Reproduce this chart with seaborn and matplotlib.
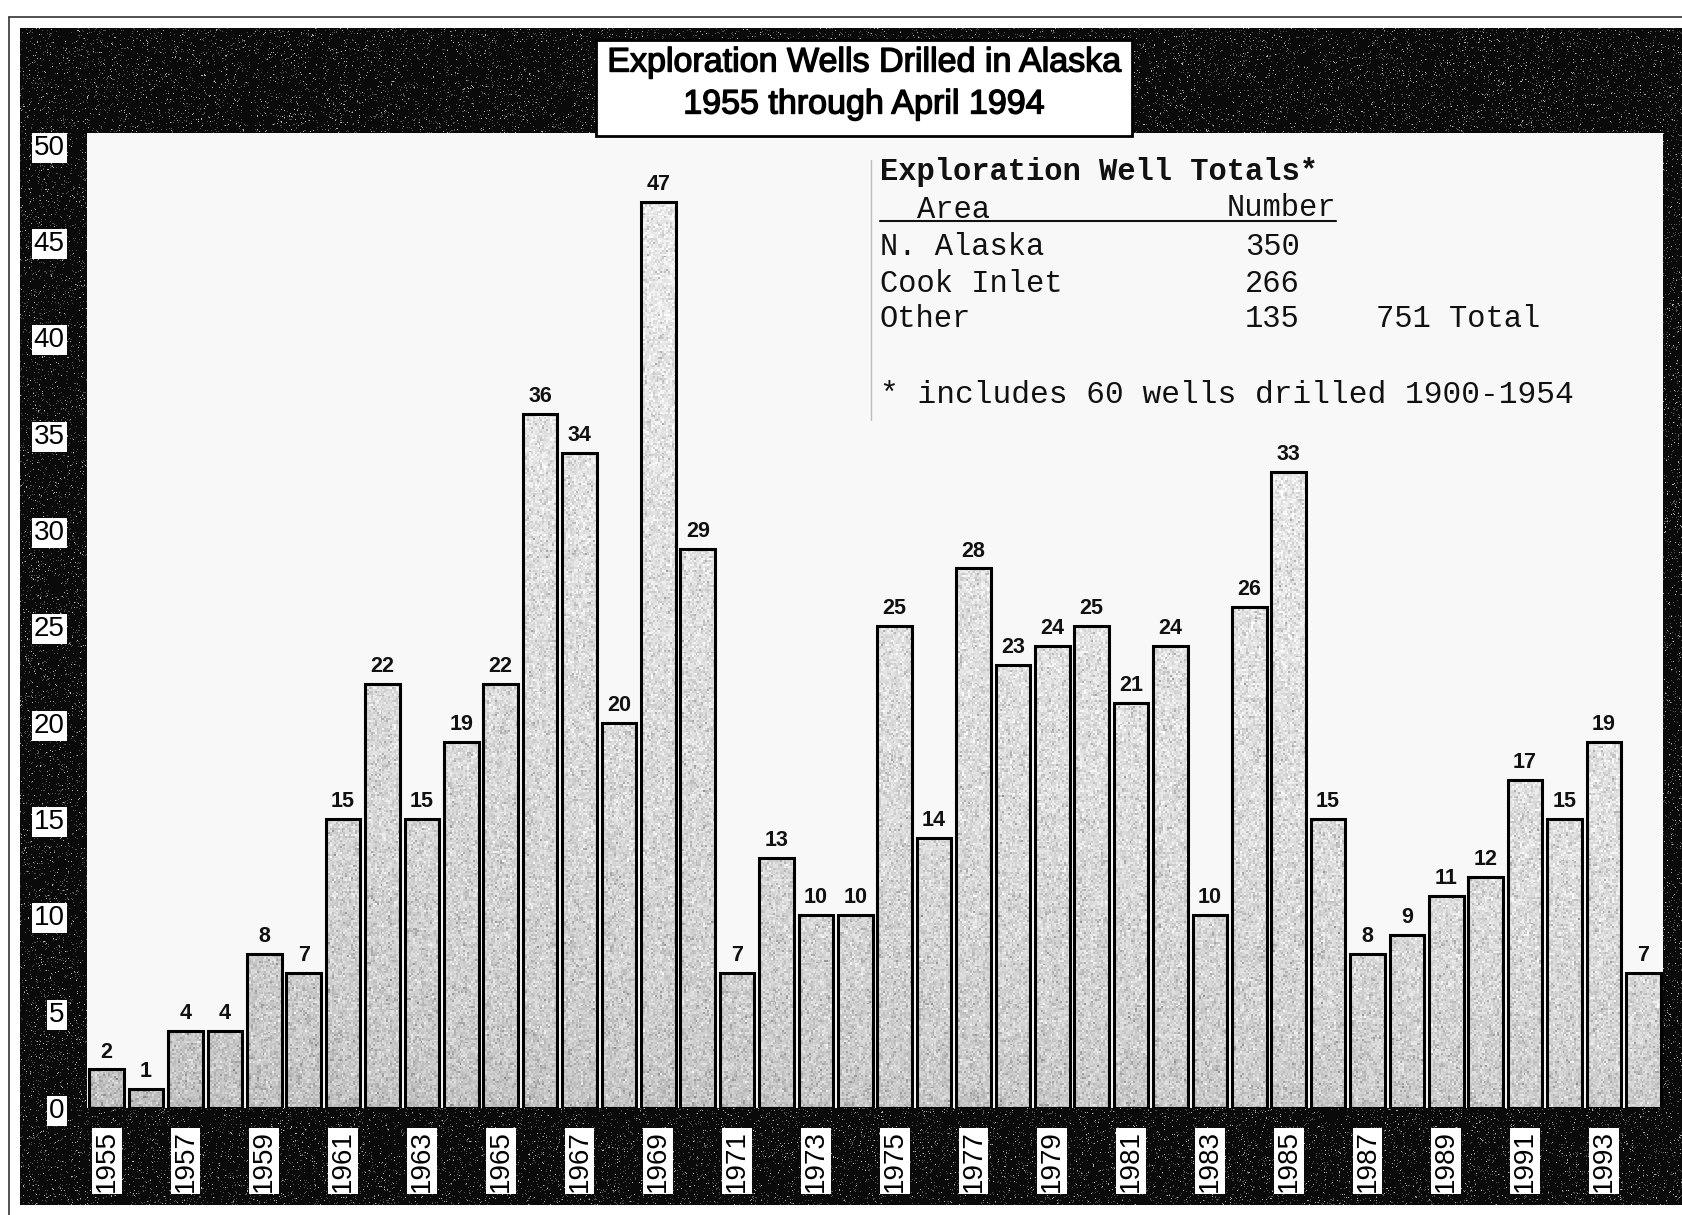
import numpy as np
import pandas as pd
import matplotlib
matplotlib.use("Agg")
import matplotlib.pyplot as plt
import matplotlib.patheffects as pe
from matplotlib.patches import Rectangle
import seaborn as sns

# Exploration wells drilled per year
years = [str(y) for y in range(1955, 1995)]
wells = [2, 1, 4, 4, 8, 7, 15, 22, 15, 19,
         22, 36, 34, 20, 47, 29, 7, 13, 10, 10,
         25, 14, 28, 23, 24, 25, 21, 24, 10, 26,
         33, 15, 8, 9, 11, 12, 17, 15, 19, 7]
tick_years = years[::2]
y_ticks = list(range(0, 51, 5))

# Summary table
areas = ["N. Alaska", "Cook Inlet", "Other"]
area_counts = [350, 266, 135]
grand_total = 751

title_lines = ["Exploration Wells Drilled in Alaska", "1955 through April 1994"]

sns.set_theme(style="white")
plt.rcParams["font.family"] = ["Liberation Sans", "DejaVu Sans"]

W, H = 1682, 1215
fig = plt.figure(figsize=(W / 100, H / 100), dpi=100)
fig.patch.set_facecolor("white")

# ---- background frame (pixel coordinates) ----
bg = fig.add_axes([0, 0, 1, 1], zorder=0)
bg.set_xlim(0, W)
bg.set_ylim(H, 0)
bg.axis("off")
fx0, fy0, fx1, fy1 = 20, 28, W, 1205
rng = np.random.default_rng(7)
speck = np.full((fy1 - fy0, fx1 - fx0), 0.04)
dots = rng.random(speck.shape)
speck[dots > 0.93] = 0.33
speck[dots > 0.985] = 0.7
bg.imshow(speck, cmap="gray", vmin=0, vmax=1, extent=[fx0, fx1, fy1, fy0],
          interpolation="nearest", aspect="auto", zorder=1)
bg.plot([9, W], [17, 17], color="#333333", lw=1.2, zorder=2)
bg.plot([9, 9], [17, H], color="#333333", lw=1.2, zorder=2)

# ---- bar chart ----
ax_l, ax_r, ax_t, ax_b = 87, 1663, 133, 1108
ax = fig.add_axes([ax_l / W, (H - ax_b) / H, (ax_r - ax_l) / W, (ax_b - ax_t) / H], zorder=2)
df = pd.DataFrame({"year": years, "wells": wells})
sns.barplot(data=df, x="year", y="wells", order=years, color="#cccccc",
            width=0.88, edgecolor="black", linewidth=2.2, ax=ax, zorder=3)
ax.set_xlim(-0.5, len(years) - 0.5)
ax.set_ylim(0, 50.6)
ax.set_facecolor("#f8f8f8")
for s in ax.spines.values():
    s.set_visible(False)
ax.set_xlabel("")
ax.set_ylabel("")

# shaded, grainy fill inside each bar
ny, nx = 500, 800
gy = np.linspace(0, 1, ny)[:, None]
gx = np.linspace(0, 1, nx)[None, :]
shade = 0.74 + 0.17 * np.sqrt(gy) + 0.05 * gx + rng.normal(0, 0.05, (ny, nx))
grain = rng.random((ny, nx))
shade[grain > 0.9] -= 0.12
for patch in ax.patches:
    patch.set_facecolor("none")
    patch.set_zorder(4)
    im = ax.imshow(shade, cmap="gray", vmin=0, vmax=1, origin="lower",
                   extent=[-0.5, len(years) - 0.5, 0, 50.6], aspect="auto",
                   interpolation="nearest", zorder=3)
    im.set_clip_path(patch)

for cont in ax.containers:
    ax.bar_label(cont, labels=[str(v) for v in wells], padding=5, fontsize=15.5,
                 fontweight="bold", color="#111111")

ax.set_xticks(range(0, len(years), 2))
ax.set_xticklabels(tick_years, rotation=90, fontsize=20, color="black")
ax.set_yticks(y_ticks)
ax.set_yticklabels([str(v) for v in y_ticks], fontsize=20, color="black")
ax.tick_params(axis="x", length=0, pad=16)
ax.tick_params(axis="y", length=0, pad=16)
for lbl in ax.get_xticklabels() + ax.get_yticklabels():
    lbl.set_bbox(dict(facecolor="white", edgecolor="none", pad=1.5))

# ---- overlay: title box and summary table ----
ov = fig.add_axes([0, 0, 1, 1], zorder=5)
ov.set_xlim(0, W)
ov.set_ylim(H, 0)
ov.axis("off")
ov.patch.set_alpha(0)
ov.add_patch(Rectangle((596, 40), 536, 96, facecolor="white", edgecolor="black", lw=2))
thick = [pe.withStroke(linewidth=1.0, foreground="black")]
ov.text(864, 63, title_lines[0], ha="center", va="center", fontsize=24.5,
        color="black", path_effects=thick)
ov.text(864, 105, title_lines[1], ha="center", va="center", fontsize=24.5,
        color="black", path_effects=thick)

mono = ["Liberation Mono", "DejaVu Sans Mono"]
ov.plot([871, 871], [160, 420], color="#bbbbbb", lw=1)
ov.text(880, 172, "Exploration Well Totals*", fontsize=22, fontweight="bold",
        family=mono, va="center", color="#111111")
ov.text(917, 210, "Area", fontsize=22, family=mono, va="center", color="#111111")
ov.text(1336, 208, "Number", fontsize=22, family=mono, va="center", ha="right", color="#111111")
ov.plot([880, 1336], [221, 221], color="#111111", lw=1.5)
row_y = [247, 284, 319]
for name, n, yy in zip(areas, area_counts, row_y):
    ov.text(880, yy, name, fontsize=22, family=mono, va="center", color="#111111")
    ov.text(1300, yy, str(n), fontsize=22, family=mono, va="center", ha="right", color="#111111")
ov.text(1376, row_y[-1], f"{grand_total} Total", fontsize=22, family=mono,
        va="center", color="#111111")
ov.text(880, 395, "* includes 60 wells drilled 1900-1954", fontsize=22.5, family=mono,
        va="center", color="#111111")

fig.savefig("out.png", dpi=100, facecolor="white")
